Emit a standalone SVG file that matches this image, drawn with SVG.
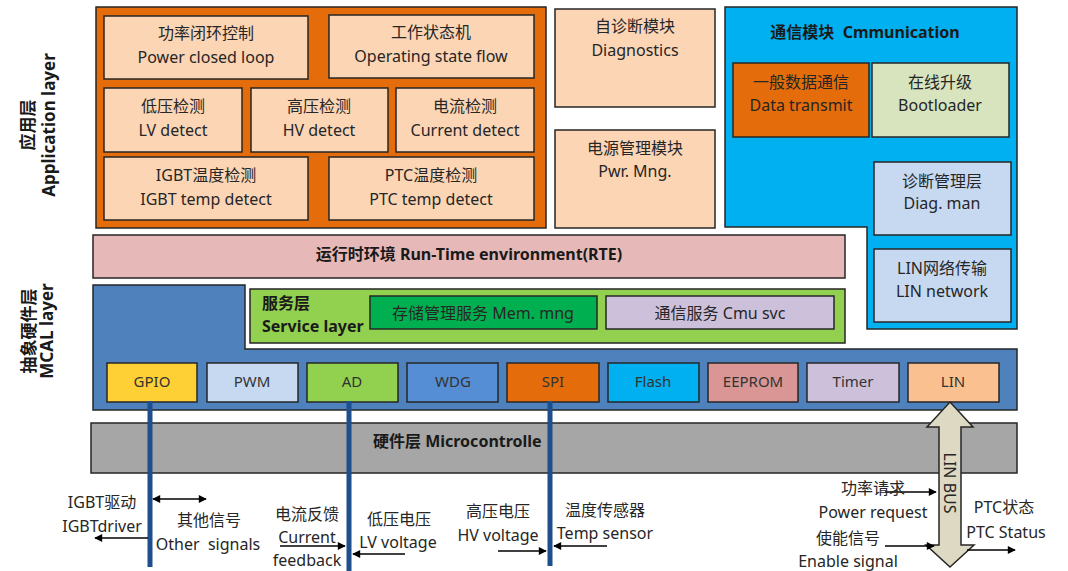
<svg xmlns="http://www.w3.org/2000/svg" width="1068" height="571" viewBox="0 0 1068 571">
<defs>
<marker id="ah" viewBox="0 0 10 10" refX="9" refY="5" markerWidth="10" markerHeight="8" markerUnits="userSpaceOnUse" orient="auto-start-reverse">
<path d="M0,0 L10,5 L0,10 z" fill="#000"/>
</marker>
<style>
text{font-family:"Noto Sans","Noto Sans CJK SC",sans-serif;font-size:16px;fill:#262626;text-anchor:middle;white-space:pre}
.b{font-weight:bold;fill:#1a1a1a}
.box{stroke:#262626;stroke-width:1.5}
.peach{fill:#FCD5B5}
.lb{fill:#C6D9F1}
.mod{stroke:#262626;stroke-width:1.5}
.mt{font-size:15px;fill:#333}
.vl{stroke:#1F4E8C;stroke-width:5;fill:none}
.ar{stroke:#000;stroke-width:1.5;fill:none}
</style>
</defs>
<rect width="1068" height="571" fill="#fff"/>

<g id="layer-labels">
<text class="b" transform="translate(34,125) rotate(-90)" style="font-size:17px">应用层</text>
<text class="b" transform="translate(55,125) rotate(-90)" style="font-size:17px">Application layer</text>
<text class="b" transform="translate(35,331) rotate(-90)" style="font-size:17px">抽象硬件层</text>
<text class="b" transform="translate(53,331) rotate(-90)" style="font-size:17px">MCAL layer</text>
</g>

<g id="app-layer">
<rect class="box" x="96" y="7" width="450" height="221" fill="#E46C0A"/>
<g id="power-closed-loop"><rect class="box peach" x="104" y="16" width="204" height="63"/><text x="206" y="39">功率闭环控制</text><text x="206" y="63">Power closed loop</text></g>
<g id="operating-state"><rect class="box peach" x="329" y="15" width="205" height="63"/><text x="431" y="38">工作状态机</text><text x="431" y="62">Operating state flow</text></g>
<g id="lv-detect"><rect class="box peach" x="104" y="88" width="138" height="64"/><text x="173" y="112">低压检测</text><text x="173" y="136">LV detect</text></g>
<g id="hv-detect"><rect class="box peach" x="251" y="88" width="137" height="64"/><text x="319" y="112">高压检测</text><text x="319" y="136">HV detect</text></g>
<g id="current-detect"><rect class="box peach" x="396" y="88" width="138" height="64"/><text x="465" y="112">电流检测</text><text x="465" y="136">Current detect</text></g>
<g id="igbt-temp"><rect class="box peach" x="104" y="157" width="204" height="63"/><text x="206" y="181">IGBT温度检测</text><text x="206" y="205">IGBT temp detect</text></g>
<g id="ptc-temp"><rect class="box peach" x="329" y="157" width="205" height="63"/><text x="431" y="181">PTC温度检测</text><text x="431" y="205">PTC temp detect</text></g>
</g>

<g id="diagnostics"><rect class="box peach" x="555" y="9" width="160" height="98"/><text x="635" y="32">自诊断模块</text><text x="635" y="56">Diagnostics</text></g>
<g id="pwr-mng"><rect class="box peach" x="555" y="130" width="160" height="98"/><text x="635" y="154">电源管理模块</text><text x="635" y="177">Pwr. Mng.</text></g>

<g id="communication">
<path class="box" d="M725,7 H1017 V329 H867 V227 H725 Z" fill="#00B0F0"/>
<text class="b" x="865" y="38">通信模块  Cmmunication</text>
<g id="data-transmit"><rect class="box" x="733" y="63" width="136" height="74" fill="#E46C0A"/><text x="801" y="88">一般数据通信</text><text x="801" y="111">Data transmit</text></g>
<g id="bootloader"><rect class="box" x="872" y="63" width="137" height="74" fill="#D7E4BD"/><text x="940" y="88">在线升级</text><text x="940" y="111">Bootloader</text></g>
<g id="diag-man"><rect class="box lb" x="874" y="162" width="137" height="73"/><text x="942" y="187">诊断管理层</text><text x="942" y="209">Diag. man</text></g>
<g id="lin-network"><rect class="box lb" x="874" y="249" width="137" height="73"/><text x="942" y="274">LIN网络传输</text><text x="942" y="297">LIN network</text></g>
</g>

<g id="rte"><rect class="box" x="93" y="235" width="752" height="43" fill="#E6B9B8"/><text class="b" x="469" y="260">运行时环境 Run-Time environment(RTE)</text></g>

<g id="mcal">
<path class="box" d="M93,285 H245 V349 H1017 V410 H93 Z" fill="#4F81BD"/>
<g id="service-layer">
<rect class="box" x="250" y="289" width="595" height="54" fill="#92D050"/>
<text class="b" x="262" y="309" style="text-anchor:start">服务层</text>
<text class="b" x="262" y="332" style="text-anchor:start">Service layer</text>
<g id="mem-mng"><rect class="box" x="370" y="296" width="227" height="33" fill="#00B050"/><text x="483" y="319">存储管理服务 Mem. mng</text></g>
<g id="cmu-svc"><rect class="box" x="606" y="296" width="228" height="33" fill="#CCC0DA"/><text x="720" y="319">通信服务 Cmu svc</text></g>
</g>
<g id="gpio"><rect class="mod" x="107" y="363" width="90" height="39" fill="#FFD035"/><text class="mt" x="152" y="387">GPIO</text></g>
<g id="pwm"><rect class="mod" x="207" y="363" width="91" height="39" fill="#C6D9F1"/><text class="mt" x="252" y="387">PWM</text></g>
<g id="ad"><rect class="mod" x="307" y="363" width="91" height="39" fill="#92D050"/><text class="mt" x="352" y="387">AD</text></g>
<g id="wdg"><rect class="mod" x="407" y="363" width="91" height="39" fill="#558ED5"/><text class="mt" x="453" y="387">WDG</text></g>
<g id="spi"><rect class="mod" x="507" y="363" width="92" height="39" fill="#E46C0A"/><text class="mt" x="553" y="387">SPI</text></g>
<g id="flash"><rect class="mod" x="608" y="363" width="91" height="39" fill="#00B0F0"/><text class="mt" x="653" y="387">Flash</text></g>
<g id="eeprom"><rect class="mod" x="708" y="363" width="90" height="39" fill="#D99694"/><text class="mt" x="753" y="387">EEPROM</text></g>
<g id="timer"><rect class="mod" x="807" y="363" width="92" height="39" fill="#CCC0DA"/><text class="mt" x="853" y="387">Timer</text></g>
<g id="lin"><rect class="mod" x="908" y="363" width="91" height="39" fill="#FAC090"/><text class="mt" x="953" y="387">LIN</text></g>
</g>

<g id="hardware"><rect class="box" x="91" y="423" width="926" height="50" fill="#A6A6A6"/><text class="b" x="373" y="447" style="text-anchor:start">硬件层 Microcontrolle</text></g>

<g id="connectors">
<line class="vl" x1="150" y1="401" x2="150" y2="567"/>
<line class="vl" x1="349" y1="401" x2="349" y2="571"/>
<line class="vl" x1="550" y1="401" x2="550" y2="566"/>
<path id="lin-bus" d="M950,402 L973,427 L961,427 L961,545 L974,545 L950,567 L926,545 L939,545 L939,427 L927,427 Z" fill="#DDD9C3" stroke="#262626" stroke-width="1.5"/>
<line class="ar" x1="148" y1="538" x2="95" y2="538" marker-end="url(#ah)"/>
<line class="ar" x1="153" y1="499" x2="206" y2="499" marker-start="url(#ah)" marker-end="url(#ah)"/>
<line class="ar" x1="280" y1="546" x2="345" y2="546" marker-end="url(#ah)"/>
<line class="ar" x1="405" y1="554" x2="353" y2="554" marker-end="url(#ah)"/>
<line class="ar" x1="498" y1="551" x2="546" y2="551" marker-end="url(#ah)"/>
<line class="ar" x1="607" y1="546" x2="554" y2="546" marker-end="url(#ah)"/>
<line class="ar" x1="885" y1="492" x2="936" y2="492" marker-end="url(#ah)"/>
<line class="ar" x1="885" y1="546" x2="934" y2="546" marker-end="url(#ah)"/>
<line class="ar" x1="967" y1="550" x2="1015" y2="550" marker-end="url(#ah)"/>
</g>

<g id="signal-labels">
<text transform="translate(944,483) rotate(90)">LIN BUS</text>
<text x="102" y="508">IGBT驱动</text>
<text x="102" y="532">IGBTdriver</text>
<text x="209" y="526">其他信号</text>
<text x="208" y="550">Other  signals</text>
<text x="307" y="520">电流反馈</text>
<text x="307" y="543">Current</text>
<text x="307" y="566">feedback</text>
<text x="399" y="525">低压电压</text>
<text x="398" y="548">LV voltage</text>
<text x="498" y="517">高压电压</text>
<text x="498" y="541">HV voltage</text>
<text x="605" y="516">温度传感器</text>
<text x="605" y="539">Temp sensor</text>
<text x="873" y="494">功率请求</text>
<text x="873" y="518">Power request</text>
<text x="848" y="544">使能信号</text>
<text x="848" y="567">Enable signal</text>
<text x="1004" y="513">PTC状态</text>
<text x="1006" y="538">PTC Status</text>
</g>
</svg>
